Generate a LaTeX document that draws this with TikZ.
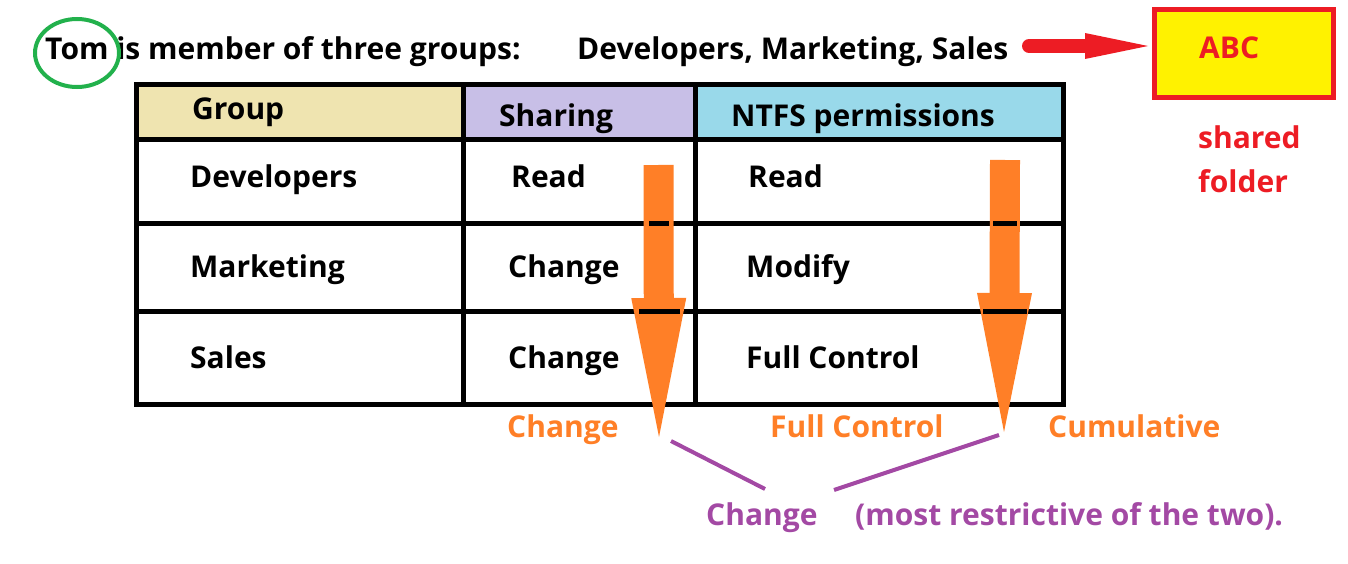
\documentclass[tikz,border=0pt]{standalone}
\usepackage{fontspec}
\setmainfont{Open Sans}
\usetikzlibrary{arrows.meta}
\definecolor{tomgreen}{HTML}{22B14C}
\definecolor{hdtan}{HTML}{EFE4B0}
\definecolor{hdlilac}{HTML}{C8BFE7}
\definecolor{hdblue}{HTML}{99D9EA}
\definecolor{abcred}{HTML}{ED1C24}
\definecolor{abcyellow}{HTML}{FFF200}
\definecolor{flow}{HTML}{FF7F27}
\definecolor{result}{HTML}{A349A4}
\begin{document}
\begin{tikzpicture}[x=1pt,y=-1pt,
		txt/.style={anchor=base west,inner sep=0pt,font=\fontsize{30}{36}\selectfont\bfseries},
		grid/.style={line width=5pt},
		flowarrow/.style={flow,line width=30pt,-{Triangle[length=139pt,width=55pt,line width=0pt]}},
		resultline/.style={result,line width=4pt}]
	\useasboundingbox (0,0) rectangle (1348,564);
	
	% top line and shared folder
	\node[txt] (tom) at (45,60) {Tom is member of three groups:};
	\node[txt] (members) at (577,60) {Developers, Marketing, Sales};
	\draw[tomgreen,line width=4pt] (77,53) ellipse [x radius=42, y radius=34];
	\node[draw=abcred,fill=abcyellow,line width=5pt,minimum width=179pt,minimum height=88pt,inner sep=0pt] (folder) at (1244,53.5) {};
	\node[txt,abcred] (abc) at (1199,59) {ABC};
	\node[txt,abcred] (shared) at (1198,149) {shared};
	\node[txt,abcred] (fold) at (1198,193) {folder};
	\coordinate (redstart) at (1029,46);
	\draw[abcred,line width=14pt,line cap=round,-{Triangle[length=63pt,width=26pt,line width=0pt]},shorten >=4pt] (redstart) -- (redstart -| folder.west);
	
	% table
	\fill[hdtan] (136,85) rectangle (463,140);
	\fill[hdlilac] (463,85) rectangle (695,140);
	\fill[hdblue] (695,85) rectangle (1063,140);
	\draw[grid] (136,85) rectangle (1063,404);
	\draw[grid] (463,85) -- (463,404) (695,85) -- (695,404);
	\draw[grid] (136,140) -- (1063,140) (136,223) -- (1063,223) (136,311) -- (1063,311);
	
	\node[txt] (grp) at (192,120) {Group};
	\node[txt] (shr) at (499,127) {Sharing};
	\node[txt] (ntfs) at (731,127) {NTFS permissions};
	\node[txt] (dev) at (190,188) {Developers};
	\node[txt] (devshr) at (511,188) {Read};
	\node[txt] (devntfs) at (748,188) {Read};
	\node[txt] (mkt) at (190,277) {Marketing};
	\node[txt] (mktshr) at (508,277) {Change};
	\node[txt] (mktntfs) at (746,277) {Modify};
	\node[txt] (sal) at (190,368) {Sales};
	\node[txt] (salshr) at (508,368) {Change};
	\node[txt] (salntfs) at (746,368) {Full Control};
	
	% orange arrows down the two columns
	\coordinate (shrtop) at (658.5,165);
	\coordinate (shrtip) at (659,437);
	\coordinate (ntfstop) at (1005,160);
	\coordinate (ntfstip) at (1004,432);
	\draw[flowarrow] (shrtop) -- (shrtip);
	\draw[flowarrow] (ntfstop) -- (ntfstip);
	\draw[grid] (649,223) -- (669,223) (639,311) -- (680,311);
	\draw[grid] (993,223) -- (1017,223) (983,311) -- (1027,311);
	
	\node[txt,flow] (shrres) at (507,437) {Change};
	\node[txt,flow] (ntfsres) at (770,437) {Full Control};
	\node[txt,flow] (cumul) at (1048,437) {Cumulative};
	
	% effective permission
	\node[txt,result] (eff) at (706,525) {Change};
	\node[txt,result] (why) at (855,525) {(most restrictive of the two).};
	\coordinate (leftend) at (671,441);
	\coordinate (rightend) at (999,435);
	\draw[resultline] (leftend) -- (765,489);
	\draw[resultline] (rightend) -- (834,490);
\end{tikzpicture}
\end{document}
